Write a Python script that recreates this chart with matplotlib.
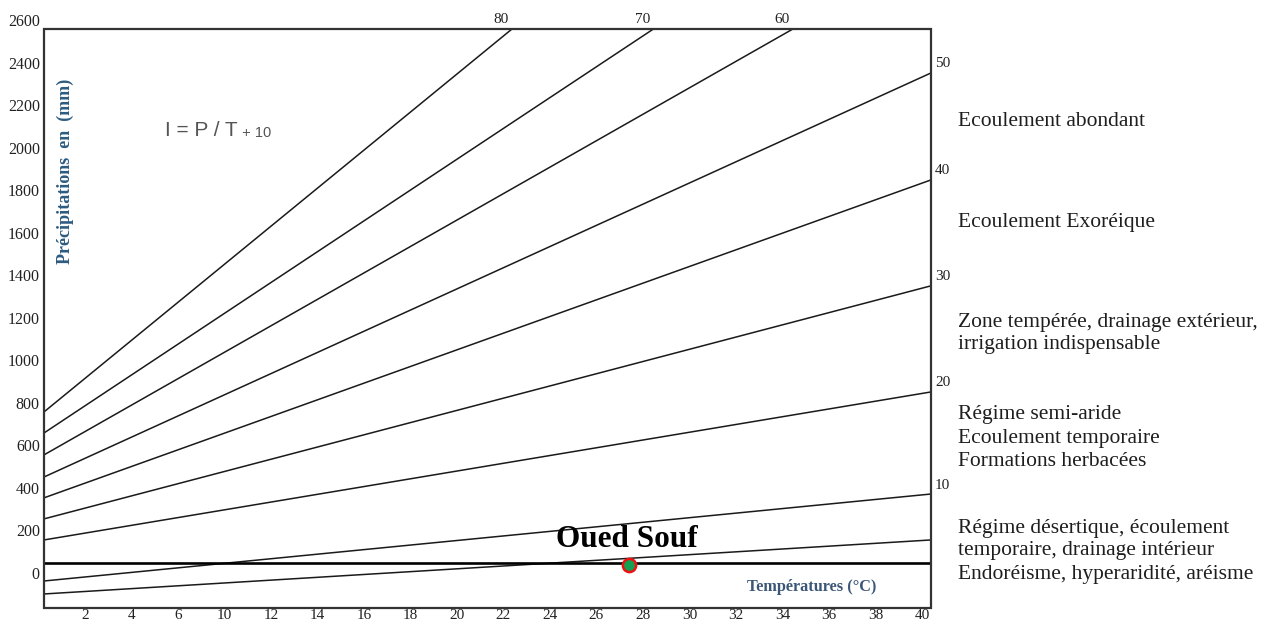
import numpy as np
import matplotlib.pyplot as plt
from matplotlib.patches import Rectangle

plt.rcParams['font.family'] = ['Liberation Serif', 'DejaVu Serif']

# axe des températures : le "8" manque sur l'original, les libellés sont décalés
xtick_vals = [2, 4, 6, 10, 12, 14, 16, 18, 20, 22, 24, 26, 28, 30, 32, 34, 36, 38, 40]
xtick_pos = [2 * (i + 1) for i in range(len(xtick_vals))]
ytick_vals = list(range(0, 2601, 200))

# droites d'indice d'aridité I (P au bord gauche et au bord droit du cadre)
line_index = [80, 70, 60, 50, 40, 30, 20, 10, None]
p_left = [757, 658, 555, 451, 353, 254, 155, -38, -99]
p_right = [4170, 3423, 2927, 2351, 1848, 1350, 851, 371, 155]

# Oued Souf
souf_T = 27.4
souf_P = 35
souf_P_line = 47

zones = [
    ['Ecoulement abondant'],
    ['Ecoulement Exoréique'],
    ['Zone tempérée, drainage extérieur,', 'irrigation indispensable'],
    ['Régime semi-aride', 'Ecoulement temporaire', 'Formations herbacées'],
    ['Régime désertique, écoulement', 'temporaire, drainage intérieur',
     'Endoréisme, hyperaridité, aréisme'],
]
zone_y = [122, 223, 322, 415, 528]  # pixels (haut de l'image)

W, H = 1274, 623
fig = plt.figure(figsize=(W / 100, H / 100), dpi=100)
ax = fig.add_axes([44 / W, 15 / H, 887 / W, 588 / H])
x_lo, x_hi = 0.24, 38.39
y_lo, y_hi = -165, 2600
frame_top = 2558
ax.set_xlim(x_lo, x_hi)
ax.set_ylim(y_lo, y_hi)
for s in ax.spines.values():
    s.set_visible(False)

frame = Rectangle((x_lo, y_lo), x_hi - x_lo, frame_top - y_lo, fill=False,
                  lw=1.6, ec='#333333', clip_on=False, zorder=3)
ax.add_patch(frame)

ax.set_xticks(xtick_pos)
ax.set_xticklabels([str(v) for v in xtick_vals])
ax.set_yticks(ytick_vals)
ax.set_yticklabels([str(v) for v in ytick_vals])
ax.tick_params(axis='x', length=0, pad=1, labelsize=11, colors='#222222')
ax.tick_params(axis='y', length=0, pad=3, labelsize=11.5, colors='#222222')

for idx, p0, p1 in zip(line_index, p_left, p_right):
    ln, = ax.plot([x_lo, x_hi], [p0, p1], color='#1a1a1a', lw=1.1)
    ln.set_clip_path(frame)
    if idx is None:
        continue
    if p1 > frame_top:
        x_exit = x_lo + (frame_top - p0) / (p1 - p0) * (x_hi - x_lo)
        ax.annotate(str(idx), (x_exit, frame_top), xytext=(-11, 9),
                    textcoords='offset pixels', ha='center', va='center',
                    fontsize=11, color='#222222', annotation_clip=False)
    else:
        ax.annotate(str(idx), (x_hi, p1), xytext=(4, 9),
                    textcoords='offset pixels', ha='left', va='center',
                    fontsize=11, color='#222222', annotation_clip=False)

# ligne des précipitations d'Oued Souf et point
ax.plot([x_lo, x_hi - 0.1], [souf_P_line, souf_P_line], color='black', lw=1.9)
sx = np.interp(souf_T, xtick_vals, xtick_pos)
ax.plot(sx, souf_P, 'o', ms=9.5, mfc='#12a150', mec='#ee1111', mew=1.8, zorder=5)
ax.annotate('Oued Souf', (sx, souf_P), xytext=(-2, 26), textcoords='offset pixels',
            ha='center', va='center', fontsize=22.5, fontweight='bold', color='black')


def px(x, y):
    return x / W, 1 - y / H


fig.text(*px(812, 587), 'Températures (°C)', ha='center', va='center',
         fontsize=11.7, fontweight='bold', color='#3b5677')
fig.text(*px(65, 171), 'Précipitations  en  (mm)', ha='center', va='center',
         rotation=90, fontsize=13, fontweight='bold', color='#2d5b80')
formula = fig.text(*px(165, 130), 'I = P / T', ha='left', va='center', fontsize=15,
                   color='#555555', family=['Liberation Sans', 'DejaVu Sans'])
plt.annotate(' + 10', (1, 0.5), xycoords=formula, xytext=(0, -3),
             textcoords='offset pixels', ha='left', va='center', fontsize=10.5,
             color='#555555', family=['Liberation Sans', 'DejaVu Sans'])

for lines, y0 in zip(zones, zone_y):
    for k, t in enumerate(lines):
        fig.text(*px(958, y0 + 23 * k), t, ha='left', va='center',
                 fontsize=15.5, color='#1e1e1e')

fig.savefig('out.png', dpi=100)
